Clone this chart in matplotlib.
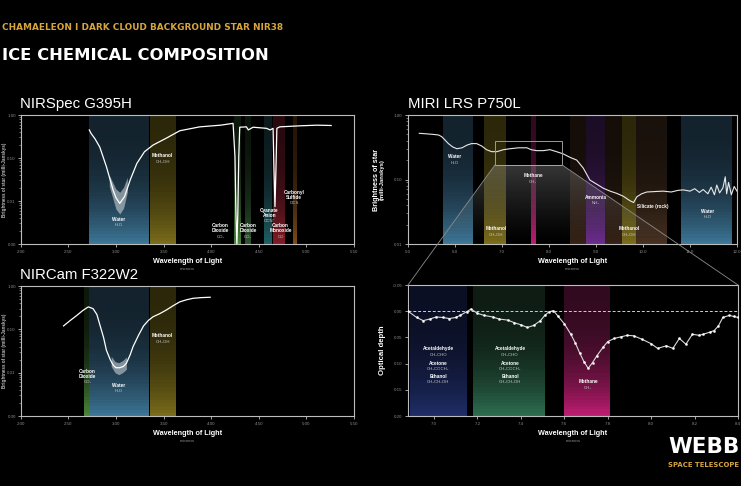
import numpy as np
import matplotlib
matplotlib.use("Agg")
import matplotlib.pyplot as plt
import matplotlib.ticker as mticker
from matplotlib import font_manager
from matplotlib.patches import Polygon, Rectangle
from matplotlib.colors import to_rgb

W, H = 741, 486

names = {f.name for f in font_manager.fontManager.ttflist}
NARROW = 'Liberation Sans Narrow' if 'Liberation Sans Narrow' in names else 'DejaVu Sans'
SANS = 'Liberation Sans' if 'Liberation Sans' in names else 'DejaVu Sans'
plt.rcParams['font.family'] = [SANS, 'DejaVu Sans']

title_top = "CHAMAELEON I DARK CLOUD BACKGROUND STAR NIR38"
title_main = "ICE CHEMICAL COMPOSITION"

# ---- NIRSpec G395H (microns, milli-Janskys) ----
nirspec_wl = [2.72, 2.74, 2.78, 2.83, 2.90, 2.97, 3.00, 3.04, 3.09, 3.15, 3.22, 3.30,
              3.39, 3.53, 3.67, 3.88, 4.10, 4.23, 4.25, 4.26, 4.27, 4.28, 4.29, 4.30,
              4.37, 4.39, 4.44, 4.58, 4.62, 4.65, 4.66, 4.67, 4.68, 4.69, 4.72, 4.93,
              5.11, 5.26]
nirspec_flux = [0.45, 0.37, 0.28, 0.18, 0.063, 0.018, 0.012, 0.0088, 0.0126, 0.031, 0.075, 0.14,
                0.20, 0.29, 0.43, 0.53, 0.58, 0.64, 0.107, 0.005, 0.001, 0.005, 0.107, 0.52,
                0.53, 0.45, 0.52, 0.49, 0.45, 0.49, 0.05, 0.0074, 0.05, 0.49, 0.53, 0.56,
                0.58, 0.57]
# noise envelope around the water trough
nirspec_noise_wl = [2.93, 2.97, 3.00, 3.04, 3.08, 3.12]
nirspec_noise_lo = [0.022, 0.011, 0.0065, 0.005, 0.0068, 0.016]
nirspec_noise_hi = [0.040, 0.026, 0.019, 0.016, 0.021, 0.036]

# ---- NIRCam F322W2 ----
nircam_wl = [2.45, 2.52, 2.59, 2.65, 2.71, 2.76, 2.80, 2.83, 2.87, 2.90, 2.94, 2.97,
             3.00, 3.04, 3.08, 3.11, 3.15, 3.18, 3.24, 3.29, 3.34, 3.39, 3.46, 3.53,
             3.60, 3.67, 3.74, 3.81, 3.90, 3.99]
nircam_flux = [0.12, 0.16, 0.21, 0.27, 0.33, 0.30, 0.22, 0.13, 0.065, 0.033, 0.020, 0.015,
               0.013, 0.013, 0.014, 0.0165, 0.026, 0.040, 0.075, 0.12, 0.16, 0.195, 0.23, 0.28,
               0.35, 0.43, 0.48, 0.52, 0.54, 0.55]
nircam_noise_wl = [2.95, 2.99, 3.03, 3.07, 3.11]
nircam_noise_lo = [0.014, 0.010, 0.009, 0.010, 0.012]
nircam_noise_hi = [0.024, 0.018, 0.017, 0.019, 0.023]

# ---- MIRI LRS P750L ----
miri_wl = [5.24, 5.40, 5.54, 5.65, 5.72, 5.80, 5.86, 5.95, 6.04, 6.15, 6.25, 6.35,
           6.46, 6.57, 6.67, 6.78, 6.89, 7.03, 7.17, 7.35, 7.53, 7.62, 7.74, 7.88,
           8.02, 8.16, 8.30, 8.45, 8.59, 8.73, 8.87, 9.01, 9.16, 9.30, 9.44, 9.58,
           9.72, 9.80, 9.87, 9.97, 10.08, 10.25, 10.43, 10.60, 10.75, 10.86, 11.00, 11.10,
           11.20, 11.28, 11.38, 11.45, 11.52, 11.57, 11.63, 11.70, 11.75, 11.78, 11.82, 11.88,
           11.94, 12.0]
miri_flux = [0.52, 0.51, 0.50, 0.49, 0.46, 0.40, 0.36, 0.32, 0.30, 0.31, 0.34, 0.36,
             0.36, 0.33, 0.29, 0.27, 0.27, 0.29, 0.30, 0.31, 0.31, 0.29, 0.28, 0.28,
             0.29, 0.27, 0.25, 0.22, 0.20, 0.15, 0.098, 0.085, 0.073, 0.066, 0.061, 0.055,
             0.047, 0.044, 0.054, 0.060, 0.064, 0.065, 0.066, 0.064, 0.068, 0.069, 0.066, 0.072,
             0.063, 0.070, 0.060, 0.076, 0.058, 0.082, 0.062, 0.074, 0.11, 0.060, 0.090, 0.058,
             0.078, 0.066]
zoom_box_wl = [6.85, 8.28]
zoom_box_flux = [0.168, 0.395]

# ---- optical depth zoom ----
tau_wl = [6.88, 6.92, 6.95, 6.98, 7.01, 7.04, 7.07, 7.10, 7.12, 7.15, 7.17, 7.20,
          7.23, 7.27, 7.30, 7.34, 7.37, 7.40, 7.43, 7.46, 7.49, 7.51, 7.53, 7.55,
          7.57, 7.60, 7.63, 7.65, 7.67, 7.69, 7.71, 7.73, 7.75, 7.78, 7.80, 7.83,
          7.86, 7.89, 7.92, 7.96, 8.00, 8.03, 8.07, 8.10, 8.13, 8.16, 8.19, 8.22,
          8.24, 8.27, 8.29, 8.31, 8.33, 8.36, 8.38, 8.40]
tau = [0.000, 0.012, 0.018, 0.015, 0.011, 0.012, 0.014, 0.012, 0.008, 0.001, -0.004, 0.004,
       0.008, 0.011, 0.015, 0.017, 0.022, 0.026, 0.031, 0.027, 0.018, 0.008, 0.001, -0.001,
       0.009, 0.024, 0.044, 0.060, 0.079, 0.096, 0.109, 0.098, 0.085, 0.068, 0.058, 0.052,
       0.049, 0.046, 0.047, 0.054, 0.062, 0.071, 0.066, 0.071, 0.052, 0.063, 0.044, 0.046,
       0.044, 0.040, 0.037, 0.028, 0.012, 0.008, 0.010, 0.012]

# ---- absorption bands (wavelength ranges, microns) ----
nirspec_bands = [(2.72, 3.35, 'water'), (3.36, 3.63, 'methanol'), (4.24, 4.31, 'co2'),
                 (4.36, 4.42, 'co2b'), (4.56, 4.64, 'teal'), (4.645, 4.78, 'red'),
                 (4.86, 4.90, 'orange')]
nircam_bands = [(2.66, 2.72, 'co2'), (2.72, 3.35, 'water'), (3.36, 3.63, 'methanol')]
miri_bands = [(5.74, 6.38, 'water'), (6.62, 7.08, 'methanol'), (8.45, 9.60, 'brown'),
              (8.78, 9.20, 'purple'), (7.62, 7.72, 'magenta'), (9.55, 9.85, 'methanol'),
              (9.85, 10.50, 'silicate'), (10.80, 11.90, 'water')]
tau_bands = [(6.89, 7.15, 'navy'), (7.18, 7.51, 'green'), (7.60, 7.81, 'magenta')]

band_colors = {
    'water': ('#13222d', '#3c7596'),
    'methanol': ('#2c2709', '#7a6c1a'),
    'co2': ('#0c180c', '#4a8438'),
    'co2b': ('#0a140a', '#2e5230'),
    'teal': ('#0c1a1e', '#1e5e64'),
    'red': ('#28090f', '#801b26'),
    'orange': ('#261507', '#7a4a18'),
    'brown': ('#140d08', '#352115'),
    'purple': ('#1c0d26', '#6a2c8c'),
    'magenta': ('#320a1f', '#bc1c70'),
    'silicate': ('#19110b', '#463020'),
    'navy': ('#0b0f24', '#1e2d66'),
    'green': ('#0e1c14', '#2c6c4e'),
}

# ---- band labels: (x, y at gap between name and formula, name, formula) ----
nirspec_labels = [(3.03, 0.0031, "Water", "H₂O"), (3.49, 0.095, "Methanol", "CH₃OH"),
                  (4.10, 0.0017, "Carbon\nDioxide", "CO₂"), (4.39, 0.0017, "Carbon\nDioxide", "CO₂"),
                  (4.61, 0.0039, "Cyanate\nAnion", "OCN⁻"), (4.73, 0.0017, "Carbon\nMonoxide", "CO"),
                  (4.87, 0.0103, "Carbonyl\nSulfide", "OCS")]
nircam_labels = [(2.70, 0.0069, "Carbon\nDioxide", "CO₂"), (3.03, 0.0043, "Water", "H₂O"),
                 (3.49, 0.060, "Methanol", "CH₃OH")]
miri_labels = [(5.99, 0.20, "Water", "H₂O"), (6.87, 0.0154, "Methanol", "CH₃OH"),
               (7.66, 0.102, "Methane", "CH₄"), (9.0, 0.047, "Ammonia", "NH₃"),
               (9.70, 0.0154, "Methanol", "CH₃OH"), (10.2, 0.034, "Silicate (rock)", ""),
               (11.38, 0.029, "Water", "H₂O")]
tau_labels = [(7.02, 0.078, "Acetaldehyde", "CH₃CHO"), (7.02, 0.105, "Acetone", "CH₃COCH₃"),
              (7.02, 0.131, "Ethanol", "CH₃CH₂OH"), (7.35, 0.078, "Acetaldehyde", "CH₃CHO"),
              (7.35, 0.105, "Acetone", "CH₃COCH₃"), (7.35, 0.131, "Ethanol", "CH₃CH₂OH"),
              (7.71, 0.141, "Methane", "CH₄")]

fig = plt.figure(figsize=(W / 100, H / 100), dpi=100, facecolor='black')


def px_axes(x0, y0, x1, y1):
    ax = fig.add_axes([x0 / W, 1 - y1 / H, (x1 - x0) / W, (y1 - y0) / H])
    ax.set_facecolor('black')
    for s in ax.spines.values():
        s.set_color('#bdbdbd')
        s.set_linewidth(0.8)
    ax.tick_params(which='both', colors='#bdbdbd', labelcolor='#8a8a8a', labelsize=3.2,
                   direction='out', length=2.5, width=0.6, pad=1.5)
    ax.tick_params(which='minor', length=1.4, width=0.4)
    return ax


def band(ax, x0, x1, key, n=40):
    c0 = np.array(to_rgb(band_colors[key][0]))
    c1 = np.array(to_rgb(band_colors[key][1]))
    edges = np.linspace(1, 0, n + 1)
    for i in range(n):
        t = (i / (n - 1)) ** 2.6
        ax.axvspan(x0, x1, ymin=edges[i + 1], ymax=edges[i], color=c0 + (c1 - c0) * t,
                   lw=0, antialiased=False, zorder=0)


def label(ax, x, y, name, formula):
    ax.annotate(name, (x, y), xytext=(0, 0.6), textcoords='offset pixels', ha='center',
                va='bottom', fontsize=3.4, fontweight='bold', color='white', linespacing=1.0,
                zorder=5)
    if formula:
        ax.annotate(formula, (x, y), xytext=(0, -0.6), textcoords='offset pixels', ha='center',
                    va='top', fontsize=3.1, color='#c8c8c8', zorder=5)


def xlabel(ax, dy=17):
    ax.annotate("Wavelength of Light", (0.5, 0), xycoords='axes fraction', xytext=(0, -dy),
                textcoords='offset pixels', ha='center', va='center', fontsize=5.2,
                fontweight='bold', color='white')
    ax.annotate("microns", (0.5, 0), xycoords='axes fraction', xytext=(0, -dy - 7.5),
                textcoords='offset pixels', ha='center', va='center', fontsize=3.2,
                color='#8a8a8a')


def ylabel_bright(ax, dx):
    ax.annotate("Brightness of star", (0, 0.5), xycoords='axes fraction', xytext=(dx, 0),
                textcoords='offset pixels', ha='center', va='center', rotation=90,
                fontsize=5.2, fontweight='bold', color='white')
    ax.annotate("(milli-Janskys)", (0, 0.5), xycoords='axes fraction', xytext=(dx + 5.5, 0),
                textcoords='offset pixels', ha='center', va='center', rotation=90,
                fontsize=4.2, fontweight='bold', color='white')


def ylabel_small(ax):
    # left panels: label squeezed into the narrow margin
    ax.annotate("Brightness of star (milli-Janskys)", (0, 0.5), xycoords='axes fraction',
                xytext=(-16.5, 0), textcoords='offset pixels', ha='center', va='center',
                rotation=90, fontsize=3.3, fontweight='bold', color='#bbbbbb')


def log_axis(ax, lo):
    ax.set_yscale('log')
    ax.set_ylim(lo, 1.0)
    ax.yaxis.set_major_locator(mticker.LogLocator(base=10, numticks=10))
    ax.yaxis.set_major_formatter(mticker.FormatStrFormatter('%.2f'))
    ax.yaxis.set_minor_locator(mticker.LogLocator(base=10, subs=np.arange(2, 10), numticks=10))
    ax.yaxis.set_minor_formatter(mticker.NullFormatter())


# NIRSpec
ax1 = px_axes(20.7, 115, 354, 244)
for x0, x1, k in nirspec_bands:
    band(ax1, x0, x1, k)
ax1.fill_between(nirspec_noise_wl, nirspec_noise_lo, nirspec_noise_hi, color='white',
                 alpha=0.45, lw=0, zorder=3)
ax1.plot(nirspec_wl, nirspec_flux, color='white', lw=0.9, zorder=4)
log_axis(ax1, 0.001)
ax1.set_xlim(2.0, 5.5)
ax1.set_xticks(np.arange(2.0, 5.51, 0.5))
ax1.xaxis.set_major_formatter(mticker.FormatStrFormatter('%.2f'))
ax1.tick_params(axis='y', pad=1.0)
for lab in nirspec_labels:
    label(ax1, *lab)
xlabel(ax1)
ylabel_small(ax1)

# NIRCam
ax2 = px_axes(20.7, 286, 354, 416)
for x0, x1, k in nircam_bands:
    band(ax2, x0, x1, k)
ax2.fill_between(nircam_noise_wl, nircam_noise_lo, nircam_noise_hi, color='white',
                 alpha=0.45, lw=0, zorder=3)
ax2.plot(nircam_wl, nircam_flux, color='white', lw=0.9, zorder=4)
log_axis(ax2, 0.001)
ax2.set_xlim(2.0, 5.5)
ax2.set_xticks(np.arange(2.0, 5.51, 0.5))
ax2.xaxis.set_major_formatter(mticker.FormatStrFormatter('%.2f'))
ax2.tick_params(axis='y', pad=1.0)
for lab in nircam_labels:
    label(ax2, *lab)
xlabel(ax2)
ylabel_small(ax2)

# MIRI
ax3 = px_axes(408, 115, 737, 244)
for x0, x1, k in miri_bands:
    band(ax3, x0, x1, k)
ax3.plot(miri_wl, miri_flux, color='#e8e8e8', lw=0.8, zorder=4)
log_axis(ax3, 0.01)
ax3.set_xlim(5.0, 12.0)
ax3.set_xticks(np.arange(5, 12.1, 1.0))
ax3.xaxis.set_major_formatter(mticker.FormatStrFormatter('%.1f'))
ax3.add_patch(Rectangle((zoom_box_wl[0], zoom_box_flux[0]), zoom_box_wl[1] - zoom_box_wl[0],
                        zoom_box_flux[1] - zoom_box_flux[0], fill=False, ec='#9a9a9a',
                        lw=0.7, zorder=5))
for lab in miri_labels:
    label(ax3, *lab)
xlabel(ax3)
ylabel_bright(ax3, -31)

# Optical depth
ax4 = px_axes(408, 285, 738, 416)
for x0, x1, k in tau_bands:
    band(ax4, x0, x1, k)
ax4.axhline(0, color='#cfcfcf', lw=0.7, ls=(0, (3, 2)), zorder=3)
ax4.plot(tau_wl, tau, color='#d8d8d8', lw=0.8, marker='o', ms=1.5, mfc='white', mec='white',
         mew=0.3, zorder=4)
ax4.set_xlim(6.88, 8.40)
ax4.set_ylim(0.20, -0.05)
ax4.set_xticks(np.arange(7.0, 8.41, 0.2))
ax4.xaxis.set_major_formatter(mticker.FormatStrFormatter('%.1f'))
ax4.set_yticks([-0.05, 0.0, 0.05, 0.10, 0.15, 0.20])
ax4.yaxis.set_major_formatter(mticker.FormatStrFormatter('%.2f'))
for lab in tau_labels:
    label(ax4, *lab)
xlabel(ax4)
ax4.annotate("Optical depth", (0, 0.5), xycoords='axes fraction', xytext=(-25, 0),
             textcoords='offset pixels', ha='center', va='center', rotation=90,
             fontsize=5.6, fontweight='bold', color='white')

# zoom connector
ov = fig.add_axes([0, 0, 1, 1])
ov.set_xlim(0, 1)
ov.set_ylim(0, 1)
ov.axis('off')
ov.patch.set_alpha(0)


def to_fig(ax, pt, coords='data'):
    tr = ax.transData if coords == 'data' else ax.transAxes
    return fig.transFigure.inverted().transform(tr.transform(pt))


p1 = to_fig(ax3, (zoom_box_wl[0], zoom_box_flux[0]))
p2 = to_fig(ax3, (zoom_box_wl[1], zoom_box_flux[0]))
q1 = to_fig(ax4, (0, 1), 'axes')
q2 = to_fig(ax4, (1, 1), 'axes')
yb = to_fig(ax3, (0, 0), 'axes')[1]
r1 = p1 + (q1 - p1) * (yb - p1[1]) / (q1[1] - p1[1])
r2 = p2 + (q2 - p2) * (yb - p2[1]) / (q2[1] - p2[1])
poly = Polygon([p1, p2, r2, r1], closed=True, fill=False, lw=0)
ov.add_patch(poly)
grad = np.zeros((200, 1, 4))
grad[:, 0, :3] = to_rgb('#d0d0d0')
grad[:, 0, 3] = np.linspace(0.0, 0.33, 200) ** 1.2
im = ov.imshow(grad, extent=(r1[0], r2[0], yb, p1[1]), origin='lower', aspect='auto',
               interpolation='bilinear', zorder=1)
im.set_clip_path(poly)
for a, b in [(p1, q1), (p2, q2)]:
    ov.plot([a[0], b[0]], [a[1], b[1]], color='#8c8c8c', lw=0.6, zorder=2)
ov.set_xlim(0, 1)
ov.set_ylim(0, 1)

# titles
renderer = fig.canvas.get_renderer()


def fit(t, target_px):
    w = t.get_window_extent(renderer).width
    t.set_fontsize(t.get_fontsize() * target_px / w)


t1 = fig.text(2 / W, 1 - 28 / H, title_top, color='#d6a53c', fontsize=10, family=NARROW,
              fontweight='bold', ha='left', va='center')
fit(t1, 281)
t2 = fig.text(2 / W, 1 - 56 / H, title_main, color='white', fontsize=20, family=NARROW,
              fontweight='bold', ha='left', va='center')
fit(t2, 266)

for txt, x, y in [("NIRSpec G395H", 20, 104), ("NIRCam F322W2", 20, 275), ("MIRI LRS P750L", 408, 104)]:
    fig.text(x / W, 1 - y / H, txt, color='white', fontsize=10.8, ha='left', va='center')

t3 = fig.text(668 / W, 1 - 447 / H, "WEBB", color='white', fontsize=19.5, family='DejaVu Sans',
              fontweight='heavy', ha='left', va='center')
fit(t3, 71)
t4 = fig.text(668 / W, 1 - 465 / H, "SPACE TELESCOPE", color='#d6a53c', fontsize=5.3,
              family='DejaVu Sans', fontweight='bold', ha='left', va='center')
fit(t4, 71)

fig.savefig('out.png', dpi=100, facecolor='black')
